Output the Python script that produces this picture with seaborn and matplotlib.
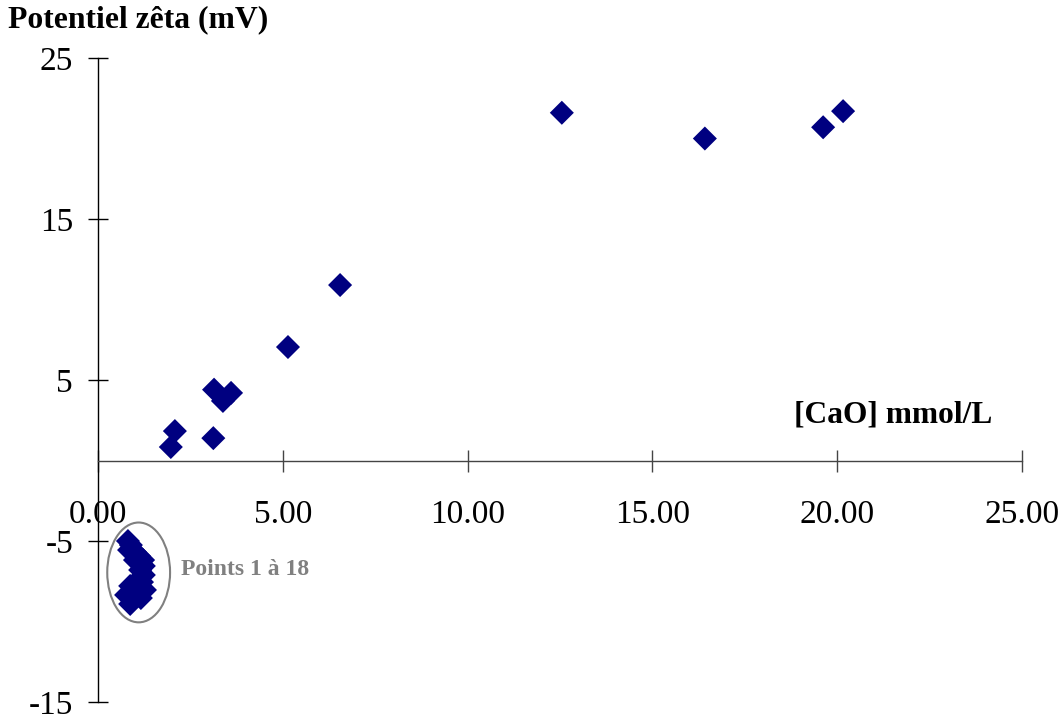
import matplotlib
matplotlib.use("Agg")
import matplotlib.pyplot as plt
from matplotlib.patches import Ellipse
import seaborn as sns
import pandas as pd

# ---- data ----
cao_cluster = [0.81, 0.89, 0.84, 1.00, 1.11, 1.22, 1.00, 1.24, 1.14,
               1.24, 1.19, 1.00, 0.87, 1.27, 0.76, 1.06, 1.16, 0.87]
zeta_cluster = [-5.0, -5.25, -5.56, -5.68, -5.93, -6.18, -6.18, -6.55, -6.80,
                -7.11, -7.55, -7.61, -7.79, -8.04, -8.35, -8.42, -8.54, -8.91]
cao_rest = [1.97, 2.08, 3.12, 3.14, 3.60, 3.38, 5.14, 6.55, 12.55, 16.42, 19.62, 20.16]
zeta_rest = [0.84, 1.83, 1.39, 4.4, 4.2, 3.7, 7.05, 10.9, 21.6, 20.0, 20.7, 21.7]

x_ticks = [0, 5, 10, 15, 20, 25]
x_tick_labels = ["0.00", "5.00", "10.00", "15.00", "20.00", "25.00"]
y_ticks = [-15, -5, 5, 15, 25]
y_tick_labels = ["-15", "-5", "5", "15", "25"]

title_text = "Potentiel zêta (mV)"
xlabel_text = "[CaO] mmol/L"
note_text = "Points 1 à 18"

df = pd.DataFrame({"cao": cao_cluster + cao_rest,
                   "zeta": zeta_cluster + zeta_rest})

sns.set_theme(style="white")
plt.rcParams["font.family"] = ["Liberation Serif", "DejaVu Serif"]
plt.rcParams["text.color"] = "black"

fig = plt.figure(figsize=(10.63, 7.19), dpi=100)
ax = fig.add_axes([0.0922, 0.0236, 0.8692, 0.8957])

sns.scatterplot(data=df, x="cao", y="zeta", marker="D", s=150,
                color="#000080", edgecolor="none", linewidth=0, ax=ax,
                zorder=3, clip_on=False)

ax.set_xlim(0, 25)
ax.set_ylim(-15, 25)
ax.set_xlabel("")
ax.set_ylabel("")

ax.spines["left"].set_position(("data", 0))
ax.spines["bottom"].set_position(("data", 0))
ax.spines["right"].set_visible(False)
ax.spines["top"].set_visible(False)
ax.spines["left"].set_color("black")
ax.spines["left"].set_linewidth(1.0)
ax.spines["bottom"].set_color("#444444")
ax.spines["bottom"].set_linewidth(1.0)

ax.set_xticks(x_ticks)
ax.set_xticklabels(x_tick_labels)
ax.set_yticks(y_ticks)
ax.set_yticklabels(y_tick_labels)
ax.tick_params(axis="x", direction="inout", length=16, width=1.0,
               color="#444444", labelsize=24, pad=20, bottom=True)
ax.tick_params(axis="y", direction="inout", length=14, width=1.0,
               color="black", labelsize=24, pad=11, left=True)
for lab in ax.get_xticklabels() + ax.get_yticklabels():
    lab.set_color("black")

ax.add_patch(Ellipse((1.10, -6.95), 1.70, 6.2, fill=False,
                     edgecolor="#808080", linewidth=1.5, zorder=4))
ax.text(2.25, -6.75, note_text, color="#808080", fontsize=17,
        fontweight="bold", va="center", ha="left")
ax.text(18.83, 2.83, xlabel_text, color="black", fontsize=22.7,
        fontweight="bold", va="center", ha="left")

fig.text(8 / 1063, 1 - 20 / 719, title_text, fontsize=22.8, color="black",
         fontweight="bold", va="center", ha="left")

fig.savefig("out.png", dpi=100)
